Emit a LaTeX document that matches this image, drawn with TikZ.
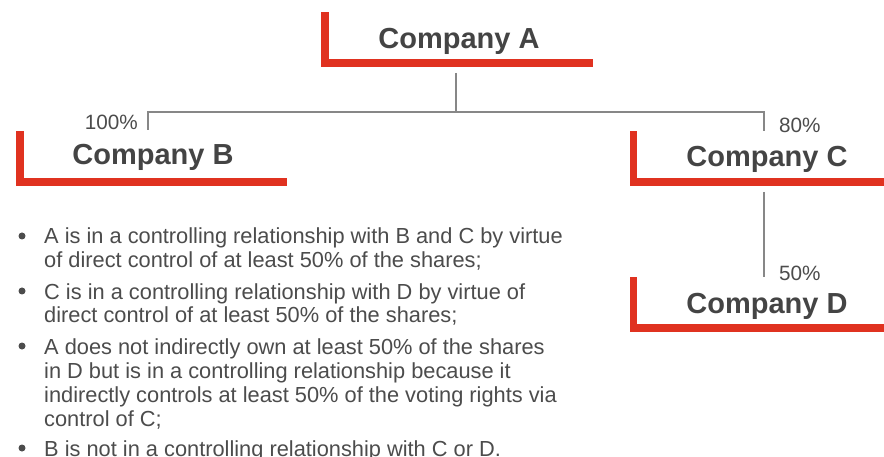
\documentclass[tikz,border=0pt]{standalone}
\usepackage{fontspec}
\setmainfont{Liberation Sans}
\begin{document}
\definecolor{brandred}{RGB}{224,50,32}
\definecolor{linkgray}{RGB}{135,135,135}
\definecolor{inkdark}{RGB}{68,68,68}
\definecolor{inktext}{RGB}{76,76,76}
\begin{tikzpicture}[x=1pt,y=-1pt,
  company/.style={font=\fontsize{29}{34}\selectfont\bfseries, text=inkdark, inner sep=0pt, anchor=base},
  share/.style={font=\fontsize{20.7}{24}\selectfont, text=inktext, inner sep=0pt},
  bodyline/.style={font=\fontsize{21.8}{24}\selectfont, text=inktext, inner sep=0pt, anchor=base west},
  dot/.style={circle, fill=inktext, inner sep=0pt, minimum size=7pt},
  bar/.style={fill=brandred},
  link/.style={draw=linkgray, line width=2.2pt}]
\useasboundingbox (0,0) rectangle (884,457);
\fill[white] (0,0) rectangle (884,457);

% red corner brackets under each company name
\fill[bar] (321,12) rectangle (329,67);  \fill[bar] (321,59) rectangle (593,67);
\fill[bar] (16,131) rectangle (24,186);  \fill[bar] (16,178) rectangle (287,186);
\fill[bar] (630,131) rectangle (637,186); \fill[bar] (630,178) rectangle (884,186);
\fill[bar] (630,277) rectangle (637,332); \fill[bar] (630,324) rectangle (884,332);

% company names
\node[company] (compA) at (459,49) {Company A};
\node[company] (compB) at (153,165) {Company B};
\node[company] (compC) at (767,167) {Company C};
\node[company] (compD) at (767,313) {Company D};

% ownership links
\coordinate (aStem) at (456,73);
\coordinate (bus) at (456,112);
\coordinate (bDrop) at (148,130);
\coordinate (cDrop) at (764,131);
\coordinate (cStem) at (764,192);
\coordinate (dDrop) at (764,277);
\draw[link] (aStem) -- (bus);
\draw[link] (bDrop) |- (bus) -| (cDrop);
\draw[link] (cStem) -- (dDrop);

% shareholdings
\node[share, anchor=base east] (pctB) at (138,130) {100\%};
\node[share, anchor=base west] (pctC) at (779,133) {80\%};
\node[share, anchor=base west] (pctD) at (779,280) {50\%};

% notes
\node[dot] (b1) at (22,236) {};
\node[bodyline] (l1) at (44,244) {A is in a controlling relationship with B and C by virtue};
\node[bodyline] (l2) at (44,268) {of direct control of at least 50\% of the shares;};
\node[dot] (b2) at (22,291) {};
\node[bodyline] (l3) at (44,299) {C is in a controlling relationship with D by virtue of};
\node[bodyline] (l4) at (44,323) {direct control of at least 50\% of the shares;};
\node[dot] (b3) at (22,346) {};
\node[bodyline] (l5) at (44,354) {A does not indirectly own at least 50\% of the shares};
\node[bodyline] (l6) at (44,378) {in D but is in a controlling relationship because it};
\node[bodyline] (l7) at (44,402) {indirectly controls at least 50\% of the voting rights via};
\node[bodyline] (l8) at (44,426) {control of C;};
\node[dot] (b4) at (22,448) {};
\node[bodyline] (l9) at (44,456) {B is not in a controlling relationship with C or D.};
\end{tikzpicture}
\end{document}
